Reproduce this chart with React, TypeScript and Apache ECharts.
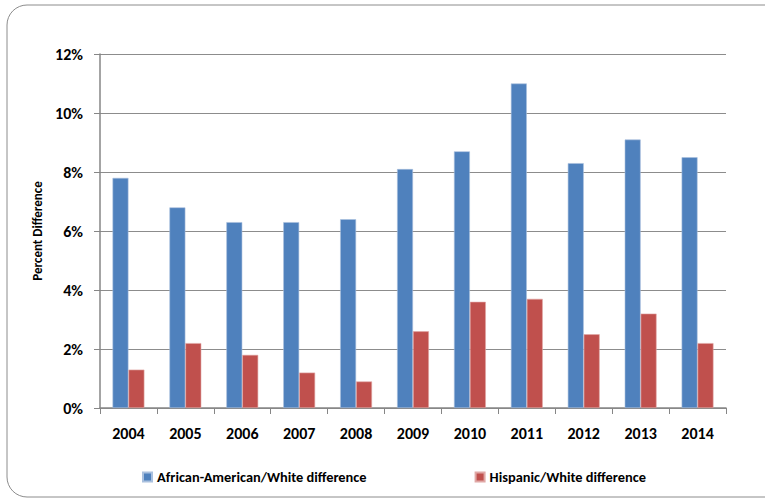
import React, { useEffect, useRef } from "react";
import * as echarts from "echarts";

const years = ["2004", "2005", "2006", "2007", "2008", "2009", "2010", "2011", "2012", "2013", "2014"];
const africanAmericanWhite = [7.8, 6.8, 6.3, 6.3, 6.4, 8.1, 8.7, 11.0, 8.3, 9.1, 8.5];
const hispanicWhite = [1.3, 2.2, 1.8, 1.2, 0.9, 2.6, 3.6, 3.7, 2.5, 3.2, 2.2];
const seriesNames = ["African-American/White difference", "Hispanic/White difference"];

const FONT = 'Carlito, "Liberation Sans", Arial, sans-serif';

export default function App() {
  const ref = useRef<HTMLDivElement>(null);
  useEffect(() => {
    if (!ref.current) return;
    const chart = echarts.init(ref.current, undefined, { renderer: "svg" });
    chart.setOption({
      animation: false,
      backgroundColor: "#ffffff",
      textStyle: { fontFamily: FONT },
      graphic: [
        {
          type: "rect",
          shape: { x: 7, y: 5, width: 790, height: 492, r: 20 },
          style: { fill: "none", stroke: "#8c8c8c", lineWidth: 1 },
          silent: true,
        },
      ],
      grid: { left: 100, right: 39, top: 54, bottom: 96, containLabel: false },
      legend: {
        left: 137,
        top: 465,
        padding: 5,
        itemWidth: 9,
        itemHeight: 9,
        itemGap: 108,
        icon: "rect",
        textStyle: { fontFamily: FONT, fontWeight: "bold", fontSize: 14.4, color: "#000" },
        data: seriesNames,
      },
      xAxis: {
        type: "category",
        data: years,
        axisLine: { lineStyle: { color: "#868686", width: 1.5 } },
        axisTick: { show: true, length: 6, lineStyle: { color: "#868686" } },
        axisLabel: { fontFamily: FONT, fontWeight: "bold", fontSize: 16, color: "#000", margin: 17 },
      },
      yAxis: {
        type: "value",
        min: 0,
        max: 12,
        interval: 2,
        name: "Percent Difference",
        nameLocation: "middle",
        nameGap: 54,
        nameTextStyle: { fontFamily: FONT, fontWeight: "bold", fontSize: 13, color: "#000" },
        axisLine: { show: true, lineStyle: { color: "#868686", width: 1.5 } },
        axisTick: { show: true, length: 6, lineStyle: { color: "#868686" } },
        axisLabel: {
          fontFamily: FONT,
          fontWeight: "bold",
          fontSize: 16,
          color: "#000",
          margin: 17,
          formatter: (v: number) => v + "%",
        },
        splitLine: { show: true, lineStyle: { color: "#8c8c8c", width: 1 } },
      },
      series: [
        {
          name: seriesNames[0],
          type: "bar",
          data: africanAmericanWhite,
          barGap: "0%",
          barCategoryGap: "44%",
          itemStyle: { color: "#4F81BD", borderColor: "#a9c0de", borderWidth: 0.6 },
        },
        {
          name: seriesNames[1],
          type: "bar",
          data: hispanicWhite,
          barGap: "0%",
          barCategoryGap: "44%",
          itemStyle: { color: "#C0504D", borderColor: "#e0a8a6", borderWidth: 0.6 },
        },
      ],
    });
    return () => chart.dispose();
  }, []);
  return <div ref={ref} style={{ position: "absolute", left: 0, top: 0, width: 765, height: 504 }} />;
}
